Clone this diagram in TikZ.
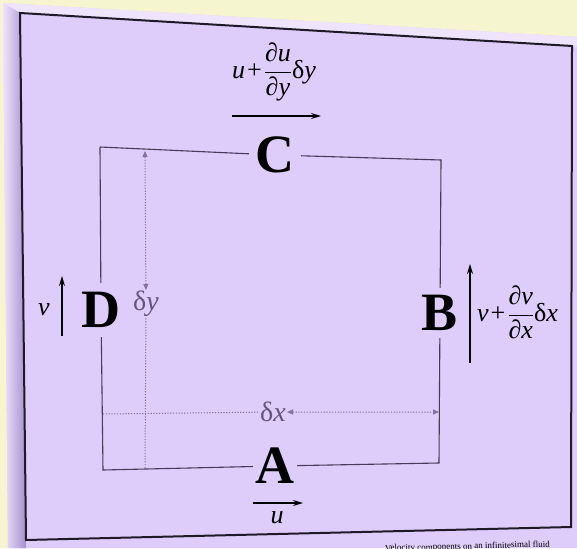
\documentclass[tikz,border=0pt]{standalone}
\usepackage{fontspec}
\setmainfont{Liberation Serif}
\usetikzlibrary{arrows.meta}
\definecolor{bgyellow}{RGB}{245,245,208}
\definecolor{panel}{RGB}{222,204,250}
\definecolor{panellight}{RGB}{238,228,253}
\definecolor{bevdark}{RGB}{165,145,205}
\definecolor{frameline}{RGB}{30,26,40}
\definecolor{rectline}{RGB}{70,60,90}
\definecolor{dimline}{RGB}{130,115,160}
\definecolor{dimtext}{RGB}{100,85,125}
\begin{document}
\begin{tikzpicture}[x=1pt,y=-1pt,
 letter/.style={font=\fontsize{54}{54}\selectfont\bfseries, inner sep=0pt, text=black},
 lab/.style={font=\fontsize{26}{28}\selectfont, inner sep=0pt},
 dimlab/.style={font=\fontsize{28}{30}\selectfont, text=dimtext, inner sep=1pt},
 side/.style={draw=rectline, line width=1.1pt},
 flow/.style={draw=black, line width=1.3pt, -{Stealth[length=10pt,width=6pt]}},
 dim/.style={draw=dimline, line width=1pt, dash pattern=on 1.2pt off 1.6pt, {Triangle[length=6pt,width=5pt]}-{Triangle[length=6pt,width=5pt]}},
]
\useasboundingbox (0,0) rectangle (577,548);
% background and panel
\fill[bgyellow] (0,0) rectangle (577,548);
\fill[panel] (3,3) -- (577,37) -- (577,548) -- (8,548) -- cycle;
\fill[panellight] (3,3) -- (577,37) -- (577,47) -- (20,13) -- cycle;
\shade[left color=panellight, right color=bevdark] (3,3) -- (20,13) -- (26,548) -- (8,548) -- cycle;
\draw[frameline, line width=2pt, line join=miter] (20,13) -- (572,46) -- (571,527) -- (26,540) -- cycle;
% caption (partly cut off, as in the reference)
\node[font=\fontsize{9}{11}\selectfont, anchor=base east, rotate=1.4, inner sep=0pt] (cap) at (550,547) {Velocity components on an infinitesimal fluid};
% element corners
\coordinate (tl) at (100,147);
\coordinate (tr) at (441,160);
\coordinate (br) at (439,463);
\coordinate (bl) at (103,470);
\node[letter, minimum width=52pt] (C) at (275,155) {C};
\node[letter, minimum height=50pt] (B) at (440,313) {B};
\node[letter, minimum width=44pt] (A) at (275,466) {A};
\node[letter, minimum height=54pt] (D) at (101,310) {D};
\draw[side] (tl) -- (C) -- (tr) -- (B) -- (br) -- (A) -- (bl) -- (D) -- (tl);
% dimensions
\node[dimlab] (dx) at (273,412) {δ\textit{x}};
\coordinate (dxl) at (103,414);
\coordinate (dxr) at (439,412);
\draw[dim] (dxl) -- (dx) -- (dxr);
\node[dimlab] (dy) at (146,304) {δ\textit{y}};
\coordinate (dyt) at (145,151);
\coordinate (dyb) at (145,468);
\draw[dim] (dyb) -- (dy) -- (dyt);
% velocity labels and arrows
\node[lab] (ulab) at (274,72) {\textit{u}\hspace{2pt}+\hspace{2pt}$\displaystyle\frac{\mbox{\textit{∂u}}}{\mbox{\textit{∂y}}}$δ\textit{y}};
\coordinate (ts) at (232,116);
\coordinate (te) at (321,116);
\draw[flow] (ts) -- (te);
\coordinate (bs) at (253,503);
\coordinate (be) at (303,503);
\draw[flow] (bs) -- (be);
\node[lab] (u) at (277,518) {\textit{u}};
\node[lab] (v) at (44,310) {\textit{v}};
\coordinate (vs) at (62,336);
\coordinate (ve) at (62,276);
\draw[flow] (vs) -- (ve);
\coordinate (rs) at (470,363);
\coordinate (re) at (470,264);
\draw[flow] (rs) -- (re);
\node[lab, anchor=west] (vlab) at (477,312) {\textit{v}\hspace{2pt}+\hspace{2pt}$\displaystyle\frac{\mbox{\textit{∂v}}}{\mbox{\textit{∂x}}}$δ\textit{x}};
\end{tikzpicture}
\end{document}
